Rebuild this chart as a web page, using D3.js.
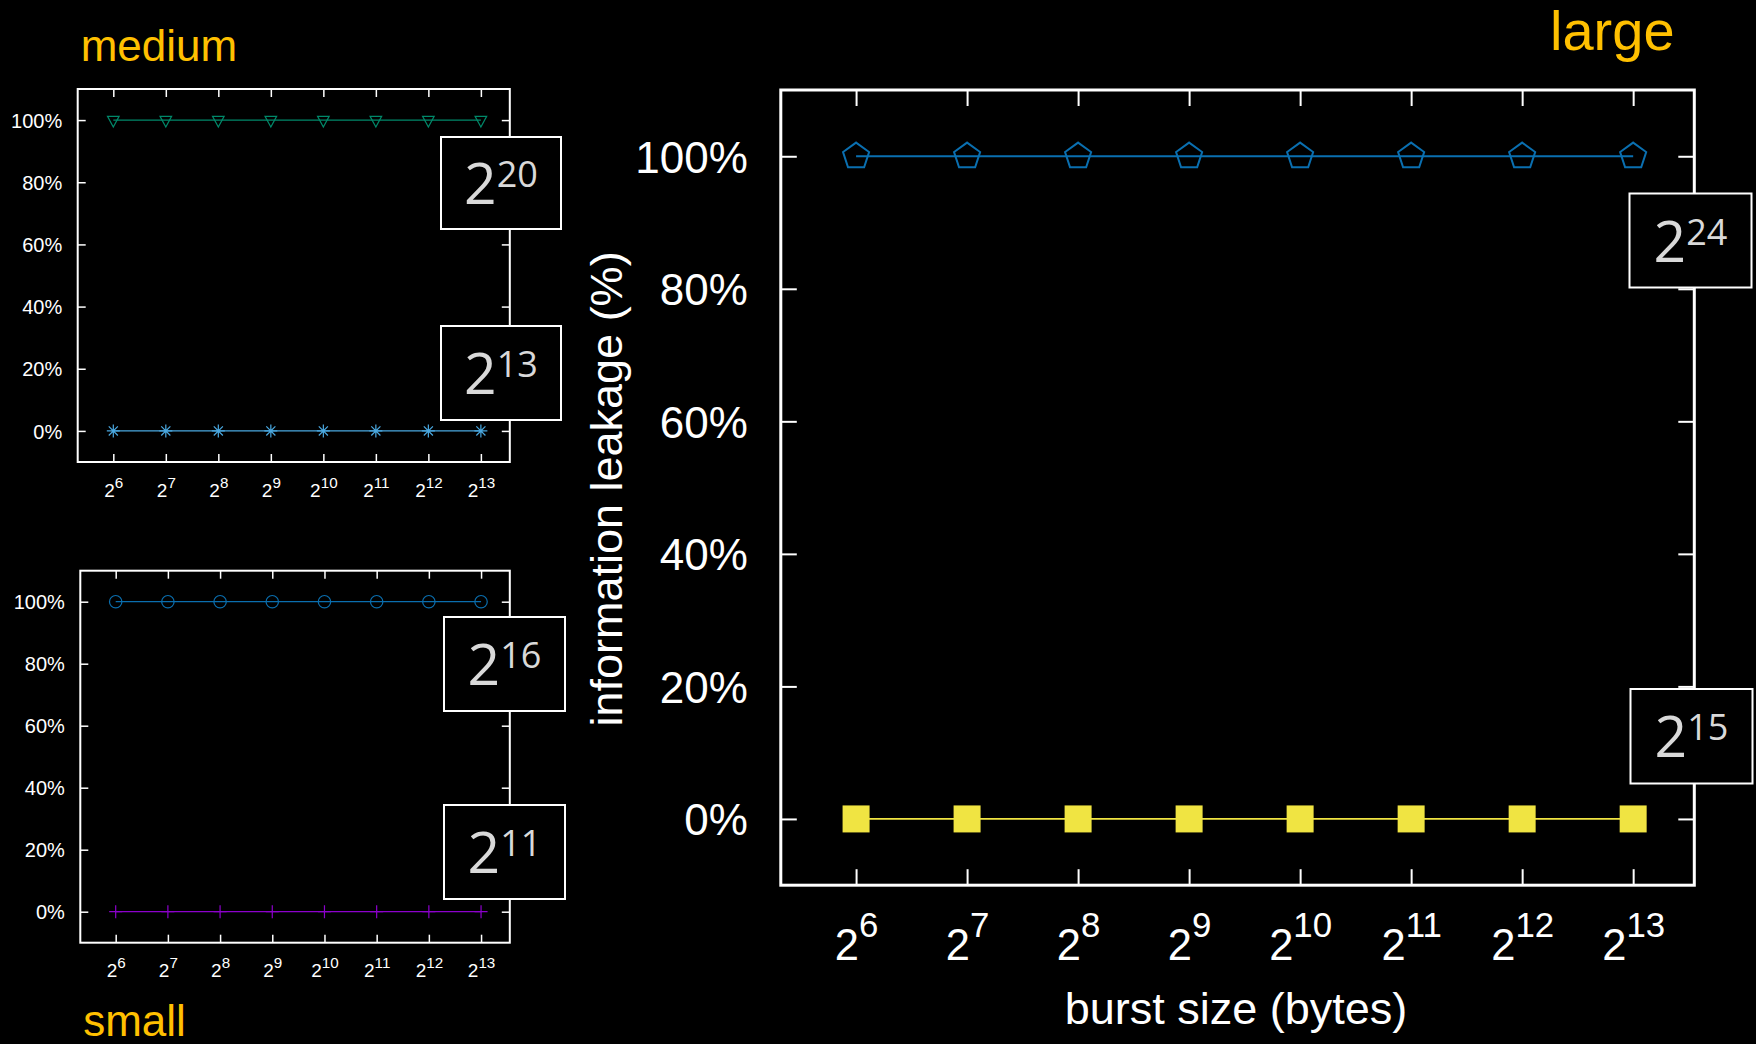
<!DOCTYPE html>
<meta charset="utf-8">
<style>
body { margin: 0; background-color: black; }
svg { display: block; }
.axis path.domain { display: none; }
.axis line { stroke: #fff; }
.tick text { fill: #fff; font-family: "Liberation Sans", Arial, sans-serif; }
.title { fill: #ffc000; font-family: "Liberation Sans", Arial, sans-serif; }
.axislabel { fill: #fff; font-family: "Liberation Sans", Arial, sans-serif; }
.box rect { fill: #000; stroke: #fff; }
.box text { fill: #d9d9d9; font-family: "Open Sans", sans-serif; }
</style>
<body>
<script src="https://d3js.org/d3.v7.min.js"></script>
<script>

// burst sizes in bytes (x axis), percentage ticks (y axis)
var burstSizes = [64, 128, 256, 512, 1024, 2048, 4096, 8192];
var yTicks = [0, 20, 40, 60, 80, 100];

// information leakage (%) per burst size
var medium_2_20 = [100, 100, 100, 100, 100, 100, 100, 100];
var medium_2_13 = [0, 0, 0, 0, 0, 0, 0, 0];
var small_2_16 = [100, 100, 100, 100, 100, 100, 100, 100];
var small_2_11 = [0, 0, 0, 0, 0, 0, 0, 0];
var large_2_24 = [100, 100, 100, 100, 100, 100, 100, 100];
var large_2_15 = [0, 0, 0, 0, 0, 0, 0, 0];

var W = 1756, H = 1044;

var svg = d3.select("body").append("svg")
    .attr("width", W)
    .attr("height", H);

// marker shapes
function symbolPath(kind, s) {
  var p = d3.path();
  if (kind == "triDown") {
    p.moveTo(-s, -s * 0.65); p.lineTo(s, -s * 0.65); p.lineTo(0, s * 1.2); p.closePath();
  } else if (kind == "star") {
    p.moveTo(-s, 0); p.lineTo(s, 0);
    p.moveTo(-s * 0.7, -s * 0.7); p.lineTo(s * 0.7, s * 0.7);
    p.moveTo(-s * 0.7, s * 0.7); p.lineTo(s * 0.7, -s * 0.7);
    p.moveTo(0, -s); p.lineTo(0, s);
  } else if (kind == "circle") {
    p.arc(0, 0, s, 0, 2 * Math.PI);
  } else if (kind == "plus") {
    p.moveTo(-s, 0); p.lineTo(s, 0);
    p.moveTo(0, -s); p.lineTo(0, s);
  } else if (kind == "pentagon") {
    for (var i = 0; i < 5; i++) {
      var a = -Math.PI / 2 + i * 2 * Math.PI / 5;
      if (i == 0) p.moveTo(s * Math.cos(a), s * Math.sin(a));
      else p.lineTo(s * Math.cos(a), s * Math.sin(a));
    }
    p.closePath();
  } else if (kind == "square") {
    p.rect(-s, -s, 2 * s, 2 * s);
  }
  return p.toString();
}

function drawPanel(o) {
  var x = d3.scaleLog().base(2)
      .domain([40, 12000])
      .range([o.x0, o.x1]);
  var y = d3.scaleLinear()
      .domain([-10, 110])
      .range([o.y1, o.y0]);

  var g = svg.append("g");

  // ticks on all four sides, pointing inwards
  var left = g.append("g").attr("class", "axis")
      .attr("transform", "translate(" + o.x0 + ",0)")
      .call(d3.axisLeft(y).tickValues(yTicks).tickSize(-o.tick).tickPadding(o.yPad)
        .tickFormat(function(d) { return d + "%"; }));
  left.selectAll("text").attr("font-size", o.yFont).attr("dy", "0.36em");

  g.append("g").attr("class", "axis")
      .attr("transform", "translate(" + o.x1 + ",0)")
      .call(d3.axisRight(y).tickValues(yTicks).tickSize(-o.tick).tickFormat(""));

  g.append("g").attr("class", "axis")
      .attr("transform", "translate(0," + o.y0 + ")")
      .call(d3.axisTop(x).tickValues(burstSizes).tickSize(-o.tick).tickFormat(""));

  var bottom = g.append("g").attr("class", "axis")
      .attr("transform", "translate(0," + o.y1 + ")")
      .call(d3.axisBottom(x).tickValues(burstSizes).tickSize(-o.tick).tickFormat(""));
  bottom.selectAll(".tick text")
      .attr("y", o.xBase).attr("dy", null)
      .attr("font-size", o.xFont)
      .each(function(d) {
        var t = d3.select(this);
        t.append("tspan").text("2");
        t.append("tspan").attr("dy", -o.supUp)
          .attr("font-size", o.xFont * 0.8)
          .text(Math.round(Math.log2(d)));
      });
  g.selectAll(".axis line").attr("stroke-width", o.tickW);

  // frame
  g.append("rect")
      .attr("x", o.x0).attr("y", o.y0)
      .attr("width", o.x1 - o.x0).attr("height", o.y1 - o.y0)
      .attr("fill", "none").attr("stroke", "#fff").attr("stroke-width", o.frameW);

  // series
  o.series.forEach(function(s) {
    var line = d3.line()
        .x(function(d, i) { return x(burstSizes[i]); })
        .y(function(d) { return y(d); });
    g.append("path")
        .datum(s.data)
        .attr("d", line)
        .attr("fill", "none")
        .attr("stroke", s.color)
        .attr("stroke-width", s.lineW);
    g.selectAll(null)
        .data(s.data)
        .enter().append("path")
        .attr("transform", function(d, i) { return "translate(" + x(burstSizes[i]) + "," + y(d) + ")"; })
        .attr("d", symbolPath(s.symbol, s.size))
        .attr("fill", s.filled ? s.color : "none")
        .attr("stroke", s.color)
        .attr("stroke-width", s.markW);
  });

  // title
  svg.append("text")
      .attr("class", "title")
      .attr("x", o.title.x).attr("y", o.title.y)
      .attr("font-size", o.title.size)
      .text(o.title.text);

  // series labels in boxes
  o.boxes.forEach(function(b) {
    var bg = svg.append("g").attr("class", "box");
    bg.append("rect")
        .attr("x", b.x).attr("y", b.y)
        .attr("width", b.w).attr("height", b.h)
        .attr("stroke-width", 2);
    var t = bg.append("text")
        .attr("x", b.x + b.w / 2).attr("y", b.y + b.h / 2 + 21)
        .attr("text-anchor", "middle")
        .attr("font-size", 57);
    t.append("tspan").text("2");
    t.append("tspan").attr("dy", -17).attr("font-size", 36).text(b.exp);
  });
}

drawPanel({
  x0: 77.7, x1: 509.8, y0: 89, y1: 462,
  tick: 8, tickW: 1.5, frameW: 2,
  yFont: 20, yPad: 15.5, xFont: 19, xBase: 35, supUp: 9,
  title: {text: "medium", x: 80.7, y: 61, size: 44},
  series: [
    {data: medium_2_20, color: "#00896a", symbol: "triDown", size: 5.8, lineW: 1.2, markW: 1.2},
    {data: medium_2_13, color: "#4aa8e0", symbol: "star", size: 6.5, lineW: 1.2, markW: 1.2}
  ],
  boxes: [
    {exp: "20", x: 441, y: 137, w: 120, h: 92},
    {exp: "13", x: 441, y: 326, w: 120, h: 94}
  ]
});

drawPanel({
  x0: 80.3, x1: 509.8, y0: 570.7, y1: 942.7,
  tick: 8, tickW: 1.5, frameW: 2,
  yFont: 20, yPad: 15.5, xFont: 19, xBase: 34, supUp: 9,
  title: {text: "small", x: 83.2, y: 1036, size: 44},
  series: [
    {data: small_2_16, color: "#0a6eae", symbol: "circle", size: 6.2, lineW: 1.2, markW: 1.2},
    {data: small_2_11, color: "#8c00cc", symbol: "plus", size: 6.5, lineW: 1.2, markW: 1.2}
  ],
  boxes: [
    {exp: "16", x: 444, y: 617, w: 121, h: 94},
    {exp: "11", x: 444, y: 805, w: 121, h: 94}
  ]
});

drawPanel({
  x0: 780.8, x1: 1694.3, y0: 90, y1: 885.2,
  tick: 16, tickW: 2, frameW: 3,
  yFont: 44, yPad: 33, xFont: 43.5, xBase: 74.6, supUp: 23,
  title: {text: "large", x: 1550, y: 50, size: 56},
  series: [
    {data: large_2_24, color: "#0a6fb0", symbol: "pentagon", size: 13.7, lineW: 1.8, markW: 2},
    {data: large_2_15, color: "#f0e442", symbol: "square", size: 13.5, filled: true, lineW: 1.8, markW: 0}
  ],
  boxes: [
    {exp: "24", x: 1629.5, y: 193.5, w: 122, h: 94},
    {exp: "15", x: 1630.5, y: 689, w: 122, h: 94.5}
  ]
});

// axis titles of the large panel
svg.append("text")
    .attr("class", "axislabel")
    .attr("transform", "translate(622,489)rotate(-90)")
    .attr("text-anchor", "middle")
    .attr("font-size", 45)
    .text("information leakage (%)");

svg.append("text")
    .attr("class", "axislabel")
    .attr("x", 1236).attr("y", 1024)
    .attr("text-anchor", "middle")
    .attr("font-size", 45)
    .text("burst size (bytes)");

</script>
</body>
